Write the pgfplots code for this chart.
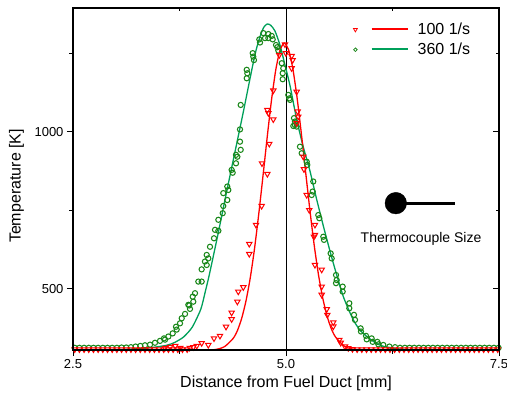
\documentclass[border=0pt]{standalone}
\usepackage{pgfplots}
\pgfplotsset{compat=1.18}
\usepackage{fontspec}
\setmainfont{Liberation Sans}
\definecolor{gcirc}{RGB}{25,135,25}
\definecolor{gline}{RGB}{0,160,90}
\definecolor{rline}{RGB}{255,0,0}

\pgfplotstableread{
x y
2.52 312
2.575 312
2.63 312
2.685 312
2.74 312
2.795 312
2.85 312
2.905 312
2.96 312
3.015 312
3.07 313
3.125 313
3.18 314
3.235 316
3.29 318
3.345 320
3.404 322
3.462 328
3.521 334
3.568 342
3.58 338
3.619 348
3.670 358
3.709 379
3.717 370
3.756 390
3.776 406
3.815 420
3.854 449
3.865 447
3.873 436
3.905 475
3.912 459
3.932 486
3.971 523
4.010 523
4.010 562
4.049 587
4.069 576
4.069 608
4.088 597
4.108 634
4.155 661
4.167 688
4.206 685
4.206 720
4.257 741
4.264 764
4.311 783
4.264 805
4.323 815
4.311 826
4.374 870
4.362 879
4.413 900
4.429 921
4.413 927
4.468 943
4.460 969
4.460 1008
4.468 1086
4.539 1171
4.546 1187
4.539 1198
4.624 1229
4.616 1240
4.609 1251
4.695 1285
4.687 1295
4.734 1315
4.754 1299
4.793 1312
4.793 1299
4.832 1306
4.844 1295
4.883 1277
4.898 1270
4.910 1259
4.950 1219
4.968 1203
4.961 1187
4.961 1168
5.027 1118
5.039 1107
5.047 1102
5.094 1044
5.105 1022
5.125 1017
5.105 1033
5.086 1019
5.164 953
5.184 932
5.243 905
5.250 895
5.320 842
5.313 810
5.301 799
5.379 735
5.391 725
5.438 666
5.446 656
5.524 613
5.536 597
5.587 544
5.595 528
5.587 518
5.665 507
5.665 491
5.743 454
5.743 438
5.798 417
5.81 401
5.876 374
5.880 364
5.939 350
5.947 339
6.005 342
6.017 331
6.072 331
6.084 323
6.142 321
6.213 316
6.280 314
6.338 312
6.395 312
6.45 312
6.505 312
6.56 312
6.615 312
6.67 312
6.725 312
6.78 312
6.835 312
6.89 312
6.945 312
7.0 312
7.055 312
7.11 312
7.165 312
7.22 312
7.275 312
7.33 312
7.385 312
7.44 312
7.495 312
}\greendata

\pgfplotstableread{
x y
2.52 307
2.575 307
2.63 307
2.685 307
2.74 307
2.795 307
2.85 307
2.905 307
2.96 307
3.015 307
3.07 307
3.125 307
3.18 307
3.235 307
3.29 307
3.345 307
3.40 307
3.455 307
3.51 307
3.565 307
3.62 307
3.675 307
3.73 307
3.785 307
3.84 307
3.58 312
3.64 315
3.70 318
3.76 312
3.87 312
3.912 314
3.952 318
4.010 327
4.088 321
4.155 342
4.225 350
4.296 379
4.362 403
4.362 424
4.429 459
4.440 491
4.499 505
4.569 611
4.569 643
4.648 704
4.714 764
4.781 866
4.718 900
4.804 962
4.851 1040
4.793 1060
4.781 1070
4.851 1132
4.921 1245
4.988 1279
4.999 1251
5.066 1242
5.078 1229
5.066 1203
5.125 1128
5.137 1065
5.144 1049
5.125 1028
5.203 921
5.211 881
5.243 799
5.273 751
5.340 704
5.340 672
5.328 666
5.340 576
5.419 561
5.419 507
5.419 481
5.478 435
5.485 417
5.555 393
5.555 380
5.625 337
5.642 328
5.692 316
5.731 311
5.78 308
5.835 307
5.89 307
5.945 307
6.0 307
6.055 307
6.11 307
6.165 307
6.22 307
6.275 307
6.33 307
6.385 307
6.44 307
6.495 307
6.55 307
6.605 307
6.66 307
6.715 307
6.77 307
6.825 307
6.88 307
6.935 307
6.99 307
7.045 307
7.10 307
7.155 307
7.21 307
7.265 307
7.32 307
7.375 307
7.43 307
7.485 307
}\reddata

\pgfplotsset{
 redleg/.style={legend image code/.code={
   \path[draw=rline, line width=0.8bp, fill=white] (-1.9bp,1.1bp) -- (1.9bp,1.1bp) -- (0bp,-2.2bp) -- cycle;
 }},
 greenleg/.style={legend image code/.code={
   \path[draw=gcirc, line width=0.8bp] (0bp,0bp) circle (1.8bp);
 }},
}

\begin{document}
\begin{tikzpicture}
\begin{axis}[
 at={(0,0)}, anchor=south west,
 scale only axis, width=426bp, height=342bp,
 xmin=2.5, xmax=7.5, ymin=305, ymax=1395,
 xtick={2.5,5,7.5}, xticklabels={2.5,5.0,7.5},
 minor xtick={3.75,6.25},
 ytick={500,1000}, yticklabels={500,1000},
 minor ytick={750,1250},
 xtick pos=left, ytick pos=left, tick align=outside,
 major tick length=6bp, minor tick length=3.5bp,
 axis line style={line width=1.2bp},
 every tick/.style={black, line width=1bp},
 tick label style={font=\fontsize{13bp}{15bp}\selectfont},
 label style={font=\fontsize{16bp}{19bp}\selectfont},
 xlabel={Distance from Fuel Duct [mm]},
 ylabel={Temperature [K]},
 xlabel style={at={(axis description cs:0.5,-0.0965)}, anchor=center},
 ylabel style={at={(axis description cs:-0.1325,0.4795)}, anchor=center},
 legend style={at={(axis description cs:0.65,0.968)}, anchor=north west,
   draw=none, fill=none, font=\fontsize{16bp}{19bp}\selectfont,
   row sep=3bp, legend cell align=left,
   /tikz/every odd column/.append style={column sep=58bp}},
]
\addplot[black, line width=0.8bp, forget plot] coordinates {(5,305) (5,1395)};
\addplot[only marks, mark=o, mark size=2.6bp, gcirc, mark options={line width=1.05bp}, forget plot] table {\greendata};
\addplot[only marks, mark=triangle, mark size=3.1bp, rline, mark options={rotate=180, fill=white, line width=1bp}, forget plot] table {\reddata};
\addplot[gline, line width=1.3bp, smooth, tension=0.4, forget plot] coordinates {
(2.5,305) (3.0,306) (3.2,308) (3.4,312) (3.6,320) (3.7,330) (3.8,347) (3.9,378) (4.0,435) (4.05,488) (4.1,545) (4.2,672) (4.3,805) (4.4,935) (4.5,1065) (4.6,1200) (4.65,1262) (4.7,1308) (4.74,1334) (4.78,1344) (4.82,1340) (4.87,1322) (4.93,1276) (5.0,1200) (5.05,1144) (5.125,1040) (5.2,955) (5.28,877) (5.36,785) (5.45,688) (5.555,582) (5.673,475) (5.79,401) (5.87,368) (5.95,348) (6.05,328) (6.14,317) (6.34,308) (6.6,305) (7.5,305)};
\addplot[rline, line width=1.3bp, smooth, tension=0.4, forget plot] coordinates {
(2.5,305) (4.0,305) (4.18,307) (4.28,316) (4.38,342) (4.43,367) (4.48,406) (4.53,461) (4.58,534) (4.63,627) (4.68,738) (4.73,860) (4.78,985) (4.83,1102) (4.88,1198) (4.93,1261) (4.98,1283) (5.03,1262) (5.08,1202) (5.13,1109) (5.18,995) (5.23,873) (5.28,752) (5.33,641) (5.38,547) (5.43,472) (5.48,415) (5.53,374) (5.58,347) (5.68,318) (5.78,308) (5.98,305) (7.5,305)};
\addplot[black, line width=3.3bp, forget plot] coordinates {(6.289,773) (6.984,773)};
\addplot[only marks, mark=*, mark size=10.8bp, black, forget plot] coordinates {(6.289,773)};
\node[font=\fontsize{14bp}{17bp}\selectfont] at (axis cs:6.585,658) {Thermocouple Size};
% legend line samples
\addplot[rline, line width=1.3bp, forget plot] coordinates {(6.006,1328) (6.435,1328)};
\addplot[gline, line width=1.3bp, forget plot] coordinates {(6.006,1264) (6.435,1264)};
\addlegendimage{redleg}
\addlegendentry{100 1/s}
\addlegendimage{greenleg}
\addlegendentry{360 1/s}
\end{axis}
\begin{axis}[
 at={(0,0)}, anchor=south west,
 scale only axis, width=426bp, height=342bp,
 xmin=2.5, xmax=7.5, ymin=305, ymax=1395,
 xtick={2.5,5,7.5}, xticklabels={},
 minor xtick={3.75,6.25},
 ytick={500,1000}, yticklabels={},
 minor ytick={750,1250},
 xtick pos=right, ytick pos=right, tick align=inside,
 major tick length=6bp, minor tick length=3.5bp,
 axis line style={line width=1.2bp},
 every tick/.style={black, line width=1bp},
]
\end{axis}
\pgfresetboundingbox
\useasboundingbox (-73bp,-49bp) rectangle (434bp,350bp);
\end{tikzpicture}
\end{document}
